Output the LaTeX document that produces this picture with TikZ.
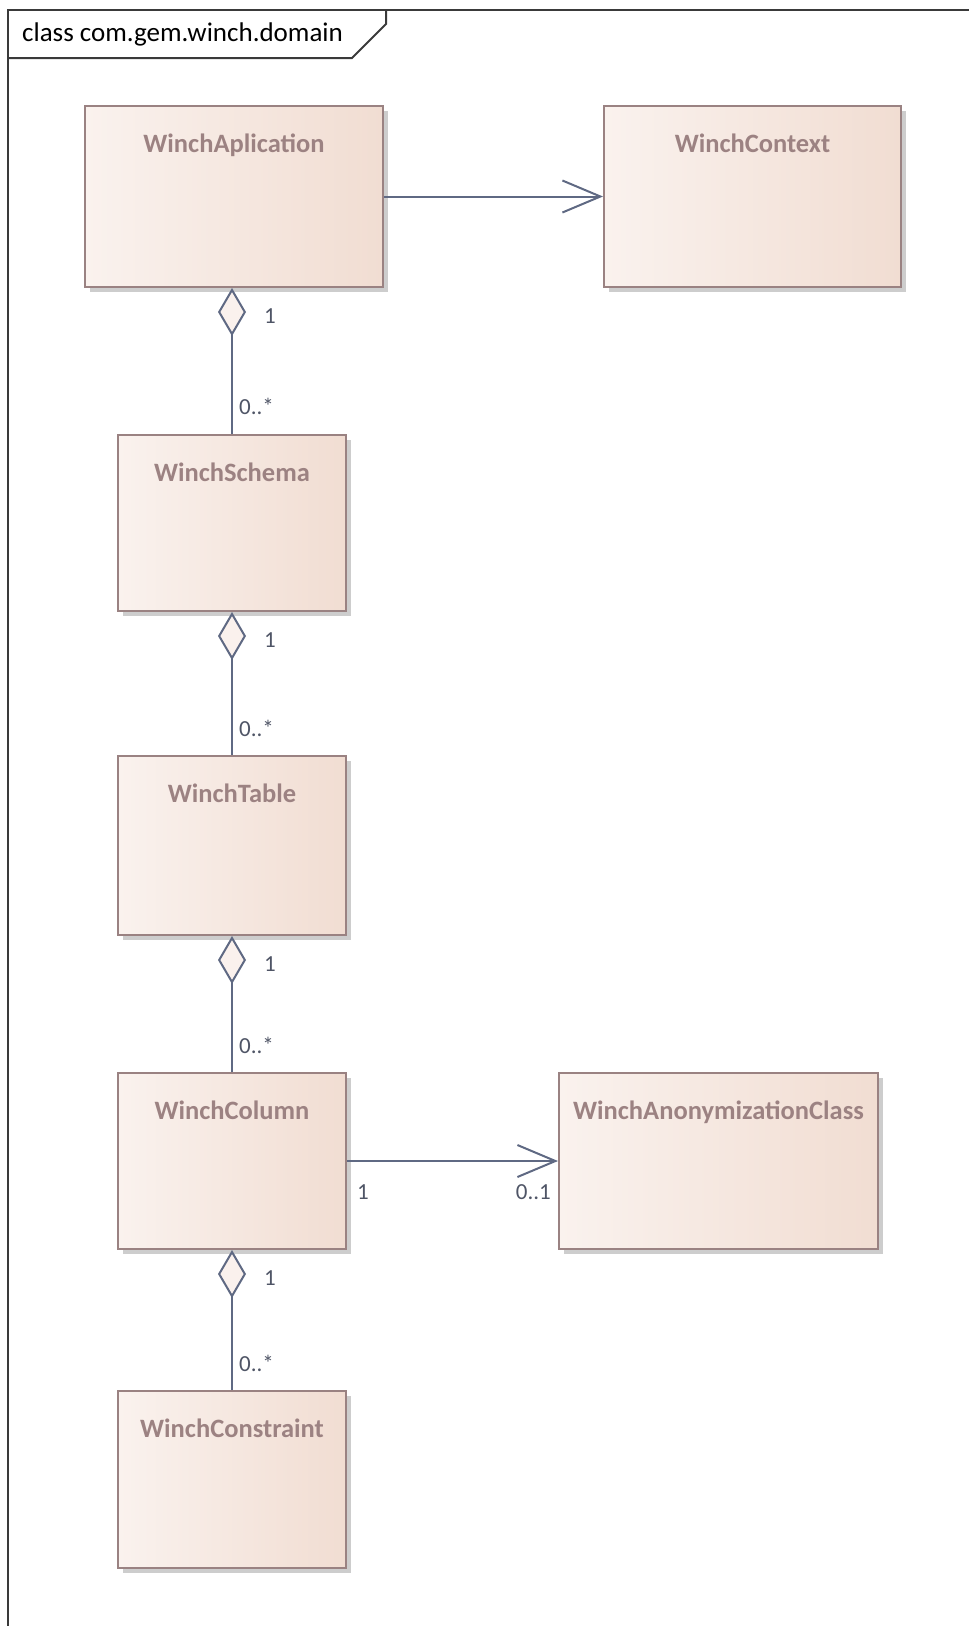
\documentclass[tikz,border=0pt]{standalone}
\usepackage{fontspec}
\setmainfont{Carlito}
\usetikzlibrary{arrows.meta,shadows}

\definecolor{boxL}{HTML}{FAF2EE}
\definecolor{boxR}{HTML}{F1DDD2}
\definecolor{boxedge}{HTML}{9A8282}
\definecolor{titletext}{HTML}{9C8282}
\definecolor{connector}{HTML}{5F6983}
\definecolor{multtext}{HTML}{4F5566}
\definecolor{framecol}{HTML}{3A3A3A}
\definecolor{shadowcol}{HTML}{CDCDCD}
\definecolor{diamondfill}{HTML}{FAF1ED}

\tikzset{
  cls/.style={rectangle, draw=boxedge, line width=2pt, left color=boxL, right color=boxR,
    inner sep=0pt, anchor=north west,
    drop shadow={shadow xshift=5pt, shadow yshift=-5pt, fill=shadowcol, opacity=1}},
  ctitle/.style={anchor=base, inner sep=0pt, text=titletext,
    font=\fontsize{26.5}{30}\selectfont\bfseries},
  mult/.style={inner sep=0pt, text=multtext, font=\fontsize{23}{27}\selectfont},
  conn/.style={draw=connector, line width=2pt},
  nav/.style={conn, -{Straight Barb[length=38pt, width=32pt]}},
  aggr/.style={conn, -{Diamond[length=48pt, width=28pt, fill=diamondfill]}},
}

\begin{document}
\begin{tikzpicture}[x=1pt, y=-1pt]
  \useasboundingbox (0,0) rectangle (969,1626);

  % package frame with its name tab
  \draw[framecol, line width=2pt] (8,1640) -- (8,10) -- (980,10);
  \draw[framecol, line width=2pt] (8,58) -- (352,58) -- (386,24) -- (386,10);
  \node[anchor=base west, inner sep=0pt, text=black, font=\fontsize{27}{31}\selectfont]
    (frametitle) at (22,41) {class com.gem.winch.domain};

  % classes
  \node[cls, minimum width=298pt, minimum height=181pt] (app)  at (84,105)   {};
  \node[cls, minimum width=297pt, minimum height=181pt] (ctx)  at (603,105)  {};
  \node[cls, minimum width=228pt, minimum height=176pt] (sch)  at (117,434)  {};
  \node[cls, minimum width=228pt, minimum height=179pt] (tab)  at (117,755)  {};
  \node[cls, minimum width=228pt, minimum height=176pt] (col)  at (117,1072) {};
  \node[cls, minimum width=319pt, minimum height=176pt] (anon) at (558,1072) {};
  \node[cls, minimum width=228pt, minimum height=177pt] (cons) at (117,1390) {};

  \node[ctitle] (appT)  at ([yshift=-47pt]app.north)  {WinchAplication};
  \node[ctitle] (ctxT)  at ([yshift=-47pt]ctx.north)  {WinchContext};
  \node[ctitle] (schT)  at ([yshift=-47pt]sch.north)  {WinchSchema};
  \node[ctitle] (tabT)  at ([yshift=-47pt]tab.north)  {WinchTable};
  \node[ctitle] (colT)  at ([yshift=-47pt]col.north)  {WinchColumn};
  \node[ctitle] (anonT) at ([yshift=-47pt]anon.north) {WinchAnonymizationClass};
  \node[ctitle] (consT) at ([yshift=-47pt]cons.north) {WinchConstraint};

  % directed associations
  \draw[nav] (app.east) -- (ctx.west);
  \draw[nav] (col.east) -- (anon.west);

  % aggregations
  \draw[aggr] (sch.north)  -- (sch.north |- app.south);
  \draw[aggr] (tab.north)  -- (sch.south);
  \draw[aggr] (col.north)  -- (tab.south);
  \draw[aggr] (cons.north) -- (col.south);

  % multiplicities
  \node[mult, anchor=base west] (m1a) at (264,323)  {1};
  \node[mult, anchor=base west] (m1b) at (239,414)  {0..*};
  \node[mult, anchor=base west] (m2a) at (264,647)  {1};
  \node[mult, anchor=base west] (m2b) at (239,736)  {0..*};
  \node[mult, anchor=base west] (m3a) at (264,971)  {1};
  \node[mult, anchor=base west] (m3b) at (239,1053) {0..*};
  \node[mult, anchor=base west] (m4a) at (264,1285) {1};
  \node[mult, anchor=base west] (m4b) at (239,1371) {0..*};
  \node[mult, anchor=base west] (m5a) at (357,1199) {1};
  \node[mult, anchor=base east] (m5b) at (551,1199) {0..1};
\end{tikzpicture}
\end{document}
